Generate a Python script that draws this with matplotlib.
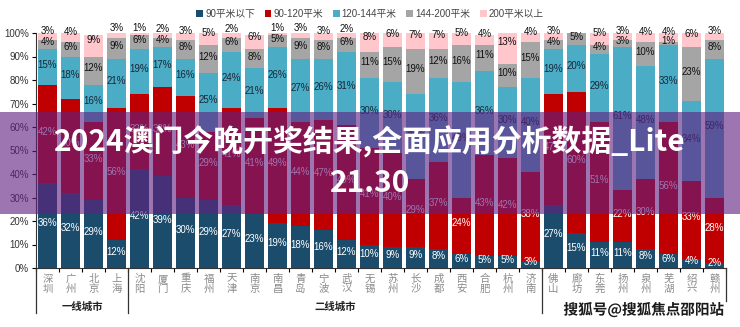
import numpy as np
import matplotlib
matplotlib.use('Agg')
import matplotlib.pyplot as plt
from matplotlib.patches import Rectangle
import matplotlib.patheffects as pe
import matplotlib.transforms as mtransforms

plt.rcParams['font.family'] = ['Liberation Sans', 'Noto Sans CJK SC', 'DejaVu Sans']

# cities (x axis) and share of each floor-area band, in %
cities = ['深圳', '广州', '北京', '上海', '沈阳', '厦门', '重庆', '福州', '天津', '南京',
          '南昌', '青岛', '宁波', '武汉', '无锡', '苏州', '长沙', '成都', '西安', '合肥',
          '杭州', '济南', '佛山', '廊坊', '东莞', '扬州', '泉州', '芜湖', '绍兴', '赣州']
below90 = [36, 32, 29, 12, 42, 39, 30, 29, 27, 23, 19, 18, 16, 12, 10, 9, 9, 8, 6, 5,
           5, 3, 27, 15, 11, 11, 8, 6, 4, 2]
s90_120 = [42, 40, 33, 56, 32, 38, 43, 29, 41, 41, 49, 44, 47, 49, 41, 40, 29, 37, 24, 43,
           42, 38, 47, 60, 51, 22, 30, 56, 33, 28]
s120_144 = [15, 18, 16, 21, 19, 17, 16, 25, 24, 21, 26, 27, 26, 31, 30, 30, 36, 36, 49, 36,
            30, 40, 19, 20, 29, 61, 48, 33, 34, 59]
s144_200 = [4, 6, 12, 9, 6, 4, 8, 12, 6, 8, 5, 9, 8, 6, 11, 15, 19, 12, 16, 11,
            10, 15, 4, 5, 4, 3, 10, 1, 23, 8]
above200 = [3, 4, 9, 3, 1, 2, 3, 5, 2, 6, 1, 3, 3, 2, 8, 6, 7, 7, 5, 4,
            13, 4, 3, 0, 5, 3, 4, 4, 6, 3]
series_names = ['90平米以下', '90-120平米', '120-144平米', '144-200平米', '200平米以上']
groups = ['一线城市', '二线城市']
group_sizes = [4, 18, 8]

title_line1 = '2024澳门今晚开奖结果,全面应用分析数据_Lite'
title_line2 = '21.30'
source = '搜狐号@搜狐焦点邵阳站'

colors = ['#1B4C6C', '#C00000', '#4BACC6', '#A5A5A5', '#FFC6CC']
label_colors = ['white', 'white', '#1a2838', '#111111', '#111111']

data = np.array([below90, s90_120, s120_144, s144_200, above200], dtype=float)
x = np.arange(len(cities))

fig = plt.figure(figsize=(7.4, 3.27), dpi=100)
ax = fig.add_axes([36 / 740, 59 / 327, 690 / 740, 235 / 327])

bottom = np.zeros(len(cities))
for i, (name, vals) in enumerate(zip(series_names, data)):
    ax.bar(x, vals, 0.85, bottom=bottom, color=colors[i], label=name, linewidth=0)
    for xi, v, b in zip(x, vals, bottom):
        if v <= 0:
            continue
        y = b + v / 2 + (2.5 if i == 4 else 1)
        ax.text(xi, y, f'{int(v)}%', ha='center', va='center', fontsize=7,
                color=label_colors[i])
    bottom += vals

ax.set_xlim(-0.5, len(cities) - 0.5)
ax.set_ylim(0, 100)
ax.set_yticks(np.arange(0, 101, 10))
ax.set_yticklabels([f'{v}%' for v in range(0, 101, 10)], fontsize=7, color='#333333')
ax.tick_params(axis='y', direction='out', length=3, width=0.8, pad=2)

ax.set_xticks(x)
ax.set_xticklabels(['\n'.join(c) for c in cities], fontsize=7.5, color='#8a8a8a',
                   linespacing=1.0)
ax.tick_params(axis='x', length=0, pad=4)
ax.set_xticks(np.arange(-0.5, len(cities), 1), minor=True)
ax.tick_params(axis='x', which='minor', length=3, width=0.8, direction='out')

for s in ['top', 'right']:
    ax.spines[s].set_visible(False)
ax.spines['left'].set_color('#333333')
ax.spines['bottom'].set_color('#333333')

# group separators and labels below the axis
trans = mtransforms.blended_transform_factory(ax.transData, ax.transAxes)
edges = np.concatenate([[0], np.cumsum(group_sizes)]) - 0.5
for k, e in enumerate(edges):
    ybot = -0.14 if k == len(edges) - 1 else -0.19
    ax.plot([e, e], [0, ybot], color='#333333', lw=0.9, transform=trans, clip_on=False)
for k, g in enumerate(groups):
    cx = (edges[k] + edges[k + 1]) / 2
    ax.text(cx, -0.165, g, transform=trans, ha='center', va='center', fontsize=7.5,
            fontweight='bold', color='#222222')

leg = fig.legend(loc='center', bbox_to_anchor=(0.5, 0.958), ncol=5, frameon=False,
                 fontsize=7, handlelength=0.7, handleheight=0.7, handletextpad=0.2,
                 columnspacing=1.0)
for t in leg.get_texts():
    t.set_color('#444444')

# dark banner with the title on top of the chart
fig.add_artist(Rectangle((0, 113 / 327), 1, 102 / 327, transform=fig.transFigure,
                         color='#612081', alpha=0.62, zorder=5, linewidth=0))
fig.text(0.5, 1 - 142 / 327, title_line1, ha='center', va='center', fontsize=21.5,
         fontweight='bold', color='white', family=['Noto Sans CJK SC'], zorder=6)
fig.text(0.5, 1 - 183 / 327, title_line2, ha='center', va='center', fontsize=21.5,
         fontweight='bold', color='white', family=['Noto Sans CJK SC'], zorder=6)

fig.text(644 / 740, 1 - 310 / 327, source, ha='center', va='center', fontsize=10.5,
         fontweight='bold', color='#1a1a1a', family=['Noto Sans CJK SC'], zorder=6,
         path_effects=[pe.withStroke(linewidth=2, foreground='white')])

fig.savefig('out.png', dpi=100)
